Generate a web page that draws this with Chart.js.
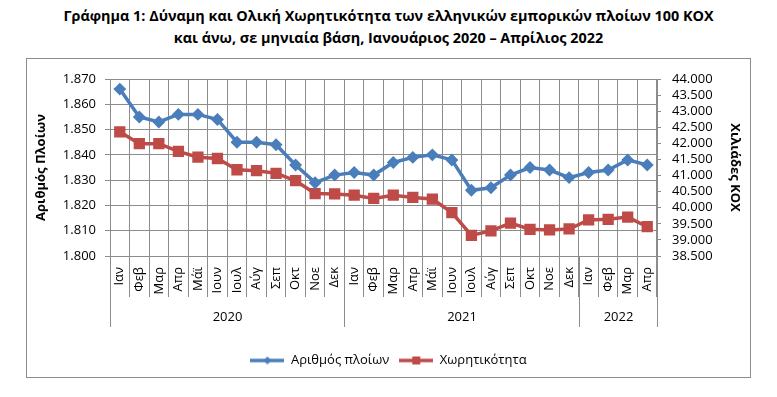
<!DOCTYPE html>
<html>
<head>
<meta charset="utf-8">
<script src="https://cdn.jsdelivr.net/npm/chart.js@4"></script>
<style>
body{margin:0;width:777px;height:397px;background:#fff;font-family:"Open Sans",sans-serif;position:relative;overflow:hidden}
#title{position:absolute;left:0;top:5px;width:777px;text-align:center;font-weight:bold;font-size:14.4px;line-height:22px;color:#000}
#box{position:absolute;left:26px;top:58px;width:723px;height:318px;border:1px solid #8c8c8c}
canvas{display:block}
</style>
</head>
<body>
<div id="title">Γράφημα 1: Δύναμη και Ολική Χωρητικότητα των ελληνικών εμπορικών πλοίων 100 ΚΟΧ<br>και άνω, σε μηνιαία βάση, Ιανουάριος 2020 – Απρίλιος 2022</div>
<div id="box"><canvas id="c" width="723" height="318"></canvas></div>
<script>
const months = ['Ιαν','Φεβ','Μαρ','Απρ','Μάϊ','Ιουν','Ιουλ','Αύγ','Σεπ','Οκτ','Νοε','Δεκ',
  'Ιαν','Φεβ','Μαρ','Απρ','Μάϊ','Ιουν','Ιουλ','Αύγ','Σεπ','Οκτ','Νοε','Δεκ',
  'Ιαν','Φεβ','Μαρ','Απρ'];
const years = ['2020','2021','2022'];
const yearMonths = [12,12,4];
// αριθμός πλοίων (αριστερός άξονας)
const ships = [1866,1855,1853,1856,1856,1854,1845,1845,1844,1836,1829,1832,
  1833,1832,1837,1839,1840,1838,1826,1827,1832,1835,1834,1831,
  1833,1834,1838,1836];
// χωρητικότητα σε χιλ. ΚΟΧ (δεξιός άξονας)
const tonnage = [42360,41990,41990,41750,41570,41530,41180,41150,41070,40840,40440,40430,
  40390,40290,40390,40320,40270,39850,39140,39280,39520,39330,39310,39340,
  39620,39640,39710,39410];
const leftTicks = [1800,1870,10];
const rightTicks = [38500,44000,500];

const blue = '#4A7EBB', red = '#BE4B48', grid = '#8c8c8c';
const font = {family:'"Open Sans", sans-serif', size:13};
const fmt = v => Math.floor(v/1000)+'.'+String(Math.round(v%1000)).padStart(3,'0');

function legendIcon(color, style){
  const c=document.createElement('canvas'); c.width=34; c.height=10;
  const g=c.getContext('2d');
  g.strokeStyle=color; g.lineWidth=3.5; g.beginPath(); g.moveTo(0,5); g.lineTo(34,5); g.stroke();
  g.fillStyle=color;
  if(style==='rect') g.fillRect(13,1,8,8);
  else { g.beginPath(); g.moveTo(17,1); g.lineTo(21,5); g.lineTo(17,9); g.lineTo(13,5); g.closePath(); g.fill(); }
  return c;
}
const icons = [legendIcon(blue,'diamond'), legendIcon(red,'rect')];

const yearPlugin = {
  id:'years',
  afterDraw(chart){
    const x=chart.scales.x, ctx=chart.ctx, bot=chart.chartArea.bottom;
    const half=(x.getPixelForValue(1)-x.getPixelForValue(0))/2;
    ctx.save();
    ctx.strokeStyle=grid; ctx.lineWidth=1;
    ctx.fillStyle='#000'; ctx.font='13px "Open Sans", sans-serif';
    ctx.textAlign='center'; ctx.textBaseline='middle';
    let start=0;
    const edge=i=>Math.round(x.getPixelForValue(i)-half)+0.5;
    ctx.beginPath(); ctx.moveTo(edge(0),bot); ctx.lineTo(edge(0),bot+71); ctx.stroke();
    years.forEach((y,k)=>{
      const end=start+yearMonths[k];
      const xe=edge(end);
      ctx.beginPath(); ctx.moveTo(xe,bot); ctx.lineTo(xe,bot+71); ctx.stroke();
      ctx.fillText(y,(edge(start)+xe)/2,bot+61);
      start=end;
    });
    ctx.restore();
  }
};

new Chart(document.getElementById('c'),{
  type:'line',
  data:{labels:months,datasets:[
    {label:'Αριθμός πλοίων',data:ships,yAxisID:'y',borderColor:blue,backgroundColor:blue,borderWidth:3.5,
      pointStyle:'rectRot',pointRadius:4,pointHoverRadius:4,tension:0},
    {label:'Χωρητικότητα',data:tonnage,yAxisID:'y1',borderColor:red,backgroundColor:red,borderWidth:3.5,
      pointStyle:'rect',pointRadius:5.5,pointHoverRadius:5.5,tension:0}
  ]},
  options:{
    responsive:false,animation:false,
    layout:{padding:{top:20,left:0,right:0,bottom:0}},
    plugins:{
      tooltip:{enabled:false},
      legend:{position:'bottom',labels:{
        font, color:'#000', usePointStyle:true, pointStyleWidth:34, boxHeight:10, padding:10,
        generateLabels(chart){
          return Chart.defaults.plugins.legend.labels.generateLabels(chart).map((l,i)=>({...l,pointStyle:icons[i]}));
        }
      }}
    },
    scales:{
      x:{
        offset:true,
        grid:{offset:true,color:grid,tickLength:41,tickColor:grid},
        border:{color:grid},
        ticks:{font,color:'#000',maxRotation:90,minRotation:90,autoSkip:false,padding:-30},
        afterFit(s){ s.height=88; }
      },
      y:{
        position:'left',min:leftTicks[0],max:leftTicks[1],
        ticks:{stepSize:leftTicks[2],font,color:'#000',padding:9,autoSkip:false,callback:fmt},
        grid:{color:grid,tickLength:5,tickColor:grid},
        border:{color:grid},
        title:{display:true,text:'Αριθμός Πλοίων',color:'#000',font:{...font,weight:'bold'},padding:{top:6,bottom:0}},
        afterFit(s){ s.width=83; }
      },
      y1:{
        position:'right',min:rightTicks[0],max:rightTicks[1],
        ticks:{stepSize:rightTicks[2],font,color:'#000',padding:11,autoSkip:false,callback:fmt},
        grid:{drawOnChartArea:false,tickLength:4,tickColor:grid},
        border:{color:grid},
        title:{display:true,text:'Χιλιάδες ΚΟΧ',color:'#000',font:{...font,weight:'bold'},padding:{top:7,bottom:0}},
        afterFit(s){ s.width=93; }
      }
    }
  },
  plugins:[yearPlugin]
});
</script>
</body>
</html>
